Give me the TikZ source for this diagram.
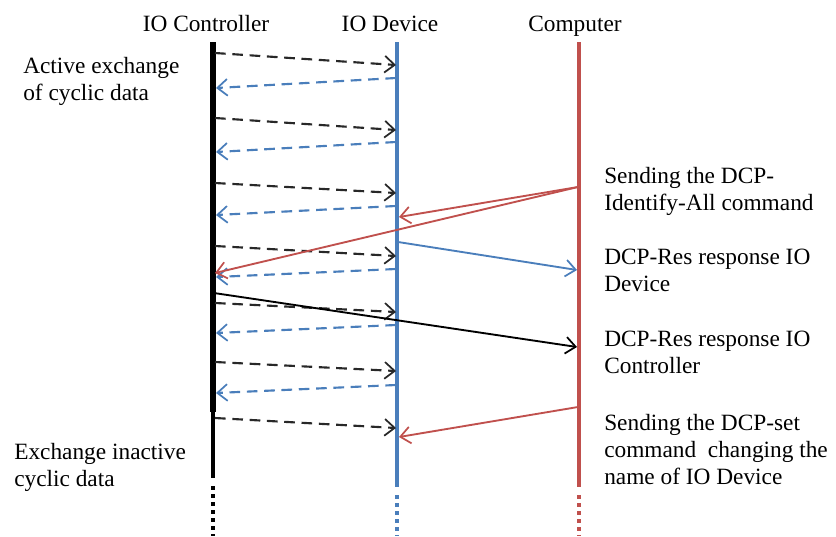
\documentclass[tikz,border=0pt]{standalone}
\usepackage{fontspec}
\setmainfont{Liberation Serif}
\usetikzlibrary{arrows.meta}

\definecolor{devblue}{RGB}{74,126,187}
\definecolor{pcred}{RGB}{192,80,77}
\definecolor{reqgray}{RGB}{40,40,40}

\tikzset{
  lbl/.style={inner sep=0pt, align=left, anchor=north west,
              font=\fontsize{17.5}{20.3}\selectfont},
  head/.style={inner sep=0pt, anchor=base,
              font=\fontsize{17.5}{20.3}\selectfont},
  tip/.style={-{Straight Barb[length=7.5pt,width=12.5pt,line width=1.3pt]}},
  req/.style={tip, reqgray, line width=1.6pt, dash pattern=on 8pt off 5pt},
  resp/.style={tip, devblue, line width=1.6pt, dash pattern=on 8pt off 5pt},
  msg/.style={tip, line width=1.4pt},
  dotline/.style={line width=3pt, dash pattern=on 3pt off 3pt}
}

\begin{document}
\begin{tikzpicture}[x=0.75pt, y=-0.75pt]
\useasboundingbox (0,0) rectangle (836,536);

% lifeline headings
\node[head] (hctl) at (206,31) {IO Controller};
\node[head] (hdev) at (390,31) {IO Device};
\node[head] (hpc)  at (575,31) {Computer};

% lifeline anchor points
\coordinate (ctltop) at (213,42);
\coordinate (ctlmid) at (213,412);
\coordinate (ctlend) at (213,478);
\coordinate (ctlbot) at (213,536);
\coordinate (devtop) at (397,42);
\coordinate (devend) at (397,487);
\coordinate (devbot) at (397,536);
\coordinate (pctop)  at (579,42);
\coordinate (pcend)  at (579,487);
\coordinate (pcbot)  at (579,536);

% lifelines
\draw[line width=4pt] (ctltop) -- (ctlmid);
\draw[line width=3pt] (ctlmid) -- (ctlend);
\draw[dotline] (ctlend) ++(0,8) -- (ctlbot);
\draw[devblue, line width=3pt] (devtop) -- (devend);
\draw[devblue, dotline] (devend) ++(0,8) -- (devbot);
\draw[pcred, line width=3pt] (pctop) -- (pcend);
\draw[pcred, dotline] (pcend) ++(0,8) -- (pcbot);

% cyclic data: controller -> device
\foreach \a/\b [count=\i] in {53/65,118/130,183/193,246/256,303/312,362/371,418/428}{
  \coordinate (q\i s) at (215,\a);
  \coordinate (q\i e) at (396,\b);
  \draw[req] (q\i s) -- (q\i e);
}
% cyclic data: device -> controller
\foreach \a/\b [count=\i] in {78/88,142/152,206/215,269/277,325/333,385/393}{
  \coordinate (r\i s) at (396,\a);
  \coordinate (r\i e) at (216,\b);
  \draw[resp] (r\i s) -- (r\i e);
}

% DCP messages
\coordinate (idall)  at (578,187);
\coordinate (iddev)  at (399,217);
\coordinate (idctl)  at (215,273);
\coordinate (resdev) at (398,242);
\coordinate (respc1) at (577,270);
\coordinate (resctl) at (214,293);
\coordinate (respc2) at (577,347);
\coordinate (setpc)  at (578,407);
\coordinate (setdev) at (399,437);

\draw[msg, pcred] (idall) -- (iddev);
\draw[msg, pcred] (idall) -- (idctl);
\draw[msg, devblue] (resdev) -- (respc1);
\draw[msg, black] (resctl) -- (respc2);
\draw[msg, pcred] (setpc) -- (setdev);

% side labels
\node[lbl] (lact) at (23,57) {Active exchange\\of cyclic data};
\node[lbl] (linact) at (14,443) {Exchange inactive\\cyclic data};
\node[lbl] (lidall) at (604,167) {Sending the DCP-\\Identify-All command};
\node[lbl] (lresd) at (604,249) {DCP-Res response IO\\Device};
\node[lbl] (lresc) at (604,331) {DCP-Res response IO\\Controller};
\node[lbl] (lset) at (604,414) {Sending the DCP-set\\command\ \ changing the\\name of IO Device};
\end{tikzpicture}
\end{document}
